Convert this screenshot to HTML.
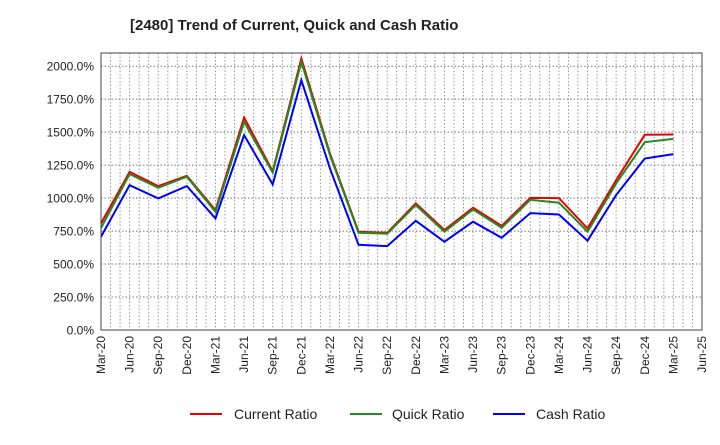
<!DOCTYPE html>
<html><head><meta charset="utf-8"><style>
body{margin:0;background:#fff;font-family:"Liberation Sans",sans-serif;}
svg text{font-family:"Liberation Sans",sans-serif;}
</style></head><body>
<svg width="720" height="440" xmlns="http://www.w3.org/2000/svg">
<text x="130" y="30" font-size="15" font-weight="bold" fill="#222">[2480]  Trend of Current, Quick and Cash Ratio</text>
<g id="grid"></g>
<g id="axes"></g>
<g id="series"></g>
<rect x="101" y="53" width="601" height="277" fill="none" stroke="#444" stroke-width="1"/>
<g>
<g><line x1="190" y1="414" x2="222" y2="414" stroke="#e00" stroke-width="2"/><text x="234" y="419" font-size="14" fill="#222">Current Ratio</text></g>
<g><line x1="350" y1="414" x2="382" y2="414" stroke="#228b22" stroke-width="2"/><text x="392" y="419" font-size="14" fill="#222">Quick Ratio</text></g>
<g><line x1="493" y1="414" x2="525" y2="414" stroke="#00f" stroke-width="2"/><text x="536" y="419" font-size="14" fill="#222">Cash Ratio</text></g>
</g>
</svg>
<script>
const xLabels=["Mar-20","Jun-20","Sep-20","Dec-20","Mar-21","Jun-21","Sep-21","Dec-21","Mar-22","Jun-22","Sep-22","Dec-22","Mar-23","Jun-23","Sep-23","Dec-23","Mar-24","Jun-24","Sep-24","Dec-24","Mar-25","Jun-25"];
const yTicks=[0,250,500,750,1000,1250,1500,1750,2000];
const currentRatio=[808,1199,1091,1169,909,1611,1204,2058,1338,745,737,960,758,927,790,1002,1000,770,1136,1480,1482];
const quickRatio=[773,1182,1078,1162,896,1578,1192,2033,1326,737,730,947,745,914,775,987,965,745,1111,1424,1449];
const cashRatio=[707,1098,998,1091,846,1477,1104,1894,1225,646,636,828,669,821,699,886,876,677,1023,1300,1333];
const NS="http://www.w3.org/2000/svg";
const X0=101,X1=702,Y0=330,YMAXV=2100,YTOP=53;
const monthsSpan=(xLabels.length-1)*3;
function xq(i){return X0+(i*3)*(X1-X0)/monthsSpan;}
function xm(m){return X0+m*(X1-X0)/monthsSpan;}
function y(v){return Y0-v*(Y0-YTOP)/YMAXV;}
const grid=document.getElementById('grid'),axes=document.getElementById('axes'),ser=document.getElementById('series');
for(let m=1;m<monthsSpan;m++){
const l=document.createElementNS(NS,'line');


l.setAttribute('x1',xm(m));l.setAttribute('x2',xm(m));l.setAttribute('y1',YTOP);l.setAttribute('y2',Y0);
l.setAttribute('stroke','#999');l.setAttribute('stroke-dasharray','1.5,2');l.setAttribute('stroke-width','1');
grid.appendChild(l);}
yTicks.forEach(v=>{
const l=document.createElementNS(NS,'line');


l.setAttribute('x1',X0);l.setAttribute('x2',X1);l.setAttribute('y1',y(v));l.setAttribute('y2',y(v));
l.setAttribute('stroke','#777');l.setAttribute('stroke-dasharray','1.5,2');
grid.appendChild(l);
const t=document.createElementNS(NS,'text');


t.setAttribute('x',94);t.setAttribute('y',y(v)+4.5);t.setAttribute('text-anchor','end');t.setAttribute('font-size','12');t.setAttribute('fill','#222');
t.textContent=v.toFixed(1)+'%';axes.appendChild(t);});
xLabels.forEach((s,i)=>{
const t=document.createElementNS(NS,'text');


const xx=xq(i)+4;
t.setAttribute('transform','translate('+xx+',336) rotate(-90)');t.setAttribute('text-anchor','end');t.setAttribute('font-size','12');t.setAttribute('fill','#222');
t.textContent=s;axes.appendChild(t);});
[[currentRatio,'#e00','current-ratio-line'],[quickRatio,'#228b22','quick-ratio-line'],[cashRatio,'#00f','cash-ratio-line']].forEach(([d,c,n])=>{
const p=document.createElementNS(NS,'polyline');


p.setAttribute('points',d.map((v,i)=>xq(i)+','+y(v)).join(' '));
p.setAttribute('fill','none');p.setAttribute('stroke',c);p.setAttribute('stroke-width','2');
ser.appendChild(p);});
</script>
</body></html>
